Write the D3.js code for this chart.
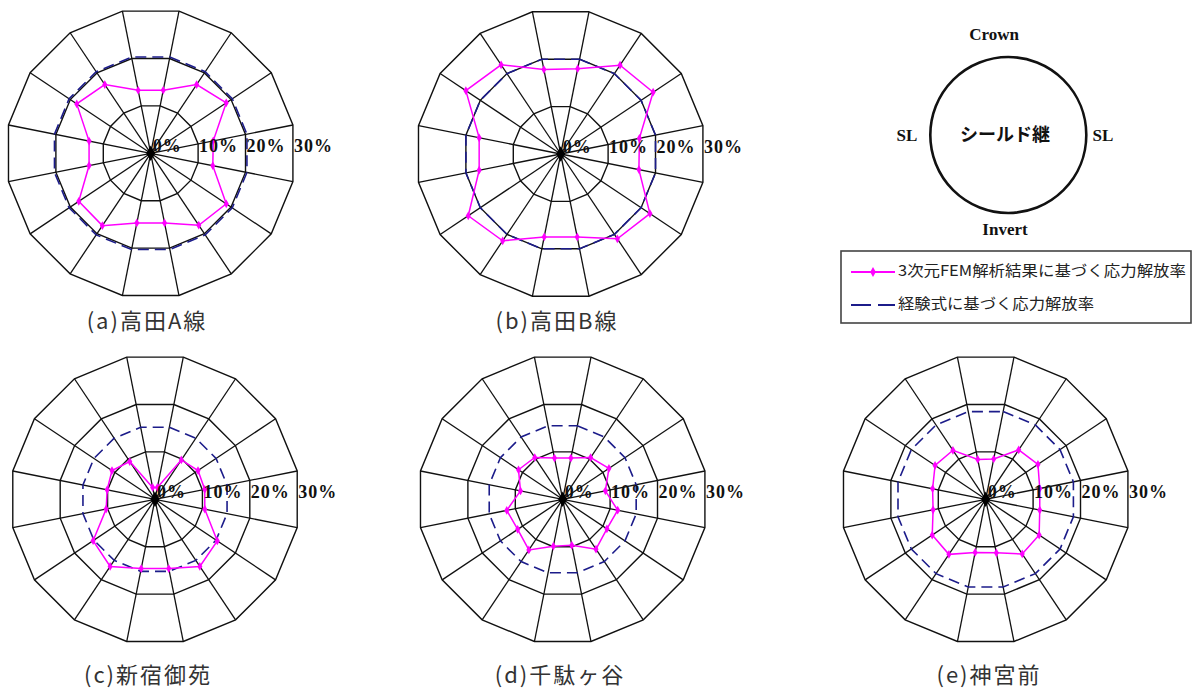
<!DOCTYPE html>
<html><head><meta charset="utf-8">
<script src="https://cdn.jsdelivr.net/npm/d3@7"></script>
<style>body{margin:0;background:#fff}svg{display:block}</style>
</head><body>
<svg id="c" width="1195" height="688"></svg>
<script>
// ---- data ----
const spokes = ["1","2","3","4","5","6","7","8","9","10","11","12","13","14","15","16"];
const ringTicks = [0, 10, 20, 30];
const tickLabels = ["0%", "10%", "20%", "30%"];
const chartTitles = ["(a)高田A線", "(b)高田B線", "(c)新宿御苑", "(d)千駄ヶ谷", "(e)神宮前"];
const femA = [13.3, 17.1, 18.8, 13.2, 13.1, 18.8, 17.9, 14.7, 14.7, 18.0, 17.9, 13.0, 13.0, 18.4, 17.1, 13.3];
const femB = [18.0, 22.1, 23.0, 16.6, 16.5, 22.2, 21.1, 17.5, 17.5, 21.6, 23.0, 17.2, 17.2, 23.6, 22.2, 17.8];
const femC = [2.5, 9.8, 10.7, 10.5, 10.5, 15.5, 16.7, 14.6, 14.6, 16.7, 15.4, 10.3, 10.1, 10.7, 9.4, 2.5];
const femD = [8.7, 10.4, 11.5, 9.0, 11.6, 11.0, 12.4, 9.7, 9.9, 12.6, 11.2, 11.8, 8.9, 11.0, 10.4, 8.7];
const femE = [8.5, 12.3, 13.0, 11.4, 11.4, 13.3, 13.6, 11.3, 11.2, 13.7, 13.3, 11.1, 11.2, 12.6, 12.2, 8.4];
const empA = [20.3, 20.3, 20.3, 20.3, 20.3, 20.3, 20.3, 20.3, 20.3, 20.3, 20.3, 20.3, 20.3, 20.3, 20.3, 20.3];
const empB = [20.0, 20.0, 20.0, 20.0, 20.0, 20.0, 20.0, 20.0, 20.0, 20.0, 20.0, 20.0, 20.0, 20.0, 20.0, 20.0];
const empC = [15.2, 15.2, 15.2, 15.2, 15.2, 15.2, 15.2, 15.2, 15.2, 15.2, 15.2, 15.2, 15.2, 15.2, 15.2, 15.2];
const empD = [15.5, 15.5, 15.5, 15.5, 15.5, 15.5, 15.5, 15.5, 15.5, 15.5, 15.5, 15.5, 15.5, 15.5, 15.5, 15.5];
const empE = [18.5, 18.5, 18.5, 18.5, 18.5, 18.5, 18.5, 18.5, 18.5, 18.5, 18.5, 18.5, 18.5, 18.5, 18.5, 18.5];
const legendLabels = ["3次元FEM解析結果に基づく応力解放率", "経験式に基づく応力解放率"];
const sectionLabels = ["Crown", "SL", "SL", "Invert", "シールド継"];

// ---- layout ----
const svg = d3.select("#c");
svg.append("rect").attr("width",1195).attr("height",688).attr("fill","#fff");
const R = 145;
const MAG = "#ff00ff", NAVY = "#1c1c8a";
const panels = [
  {cx:150.7, cy:153.3, tx:147, ty:323, fem:femA, emp:empA},
  {cx:560.7, cy:154.0, tx:557, ty:323, fem:femB, emp:empB},
  {cx:155.0, cy:499.3, tx:148, ty:677, fem:femC, emp:empC},
  {cx:562.7, cy:499.3, tx:560, ty:677, fem:femD, emp:empD},
  {cx:985.7, cy:499.3, tx:989, ty:677, fem:femE, emp:empE}
];
const r = d3.scaleLinear().domain([0, 30]).range([0, R]);
const band = d3.scaleBand().domain(spokes).range([0, 2*Math.PI]);
const angleOf = (s) => band(s) + band.bandwidth()/2;

panels.forEach((p, k) => {
  const g = svg.append("g").attr("transform", `translate(${p.cx},${p.cy})`);
  // rings
  ringTicks.filter(t => t > 0).forEach(t => {
    g.append("path")
      .attr("d", d3.lineRadial().angle(s => angleOf(s)).radius(() => r(t)).curve(d3.curveLinearClosed)(spokes))
      .attr("fill","none").attr("stroke","#111").attr("stroke-width",1.4);
  });
  // spokes
  spokes.forEach(s => {
    const a = angleOf(s);
    g.append("line").attr("x1",0).attr("y1",0)
      .attr("x2", r(30)*Math.sin(a)).attr("y2", -r(30)*Math.cos(a))
      .attr("stroke","#111").attr("stroke-width",1.3);
  });
  // empirical (dashed)
  g.append("path")
    .attr("d", d3.lineRadial().angle((d,i) => angleOf(spokes[i])).radius(d => r(d)).curve(d3.curveLinearClosed)(p.emp))
    .attr("fill","none").attr("stroke",NAVY).attr("stroke-width",1.6).attr("stroke-dasharray","11,6");
  // FEM line
  g.append("path")
    .attr("d", d3.lineRadial().angle((d,i) => angleOf(spokes[i])).radius(d => r(d)).curve(d3.curveLinearClosed)(p.fem))
    .attr("fill","none").attr("stroke",MAG).attr("stroke-width",1.5);
  g.selectAll("path.mk").data(p.fem).enter().append("path").attr("class","mk")
    .attr("d", d3.symbol(d3.symbolDiamond, 22)())
    .attr("transform", (d,i) => { const a = angleOf(spokes[i]); return `translate(${r(d)*Math.sin(a)},${-r(d)*Math.cos(a)})`; })
    .attr("fill",MAG);
  // center blob
  g.append("path").attr("d", d3.symbol(d3.symbolDiamond, 70)()).attr("fill","#000");
  // tick labels
  ringTicks.forEach((t, i) => {
    g.append("text")
      .attr("x", t === 0 ? 2 : r(t)*Math.cos(band.bandwidth()/2) + 1)
      .attr("y", -1)
      .attr("font-family","Liberation Serif, serif").attr("font-weight","bold")
      .attr("font-size",18).attr("letter-spacing",1).attr("fill","#111")
      .text(tickLabels[i]);
  });
  // title
  svg.append("text").attr("x",p.tx).attr("y",p.ty).attr("text-anchor","middle")
    .attr("dominant-baseline","middle")
    .attr("font-family","Noto Sans CJK JP").attr("font-size",22).attr("letter-spacing",2)
    .attr("fill","#333").text(chartTitles[k]);
});

// ---- section sketch ----
svg.append("circle").attr("cx",1008.3).attr("cy",135).attr("r",78)
  .attr("fill","none").attr("stroke","#111").attr("stroke-width",2.6);
const serif = (x,y,t,anchor) => svg.append("text").attr("x",x).attr("y",y).attr("text-anchor",anchor||"middle")
  .attr("dominant-baseline","middle").attr("font-family","Liberation Serif, serif").attr("font-weight","bold")
  .attr("font-size",17).attr("fill","#111").text(t);
serif(994, 36, sectionLabels[0]);
serif(907, 137, sectionLabels[1]);
serif(1103, 137, sectionLabels[2]);
serif(1005, 231, sectionLabels[3]);
svg.append("text").attr("x",1005).attr("y",136).attr("text-anchor","middle").attr("dominant-baseline","middle")
  .attr("font-family","Noto Sans CJK JP").attr("font-weight","bold").attr("font-size",18).attr("fill","#111")
  .text(sectionLabels[4]);

// ---- legend ----
svg.append("rect").attr("x",841).attr("y",251).attr("width",350).attr("height",72)
  .attr("fill","#fff").attr("stroke","#444").attr("stroke-width",1.6);
svg.append("line").attr("x1",851).attr("x2",895).attr("y1",272).attr("y2",272).attr("stroke",MAG).attr("stroke-width",2);
svg.append("path").attr("d", d3.symbol(d3.symbolDiamond, 28)()).attr("transform","translate(873,272)").attr("fill",MAG);
svg.append("line").attr("x1",851).attr("x2",895).attr("y1",305).attr("y2",305).attr("stroke",NAVY).attr("stroke-width",2).attr("stroke-dasharray","20,7");
svg.append("text").attr("x",898).attr("y",272).attr("dominant-baseline","middle")
  .attr("font-family","Noto Sans CJK JP").attr("font-size",15).attr("fill","#222")
  .attr("textLength",288).attr("lengthAdjust","spacingAndGlyphs").text(legendLabels[0]);
svg.append("text").attr("x",898).attr("y",305).attr("dominant-baseline","middle")
  .attr("font-family","Noto Sans CJK JP").attr("font-size",15).attr("fill","#222")
  .attr("textLength",196).attr("lengthAdjust","spacingAndGlyphs").text(legendLabels[1]);
</script>
</body></html>
